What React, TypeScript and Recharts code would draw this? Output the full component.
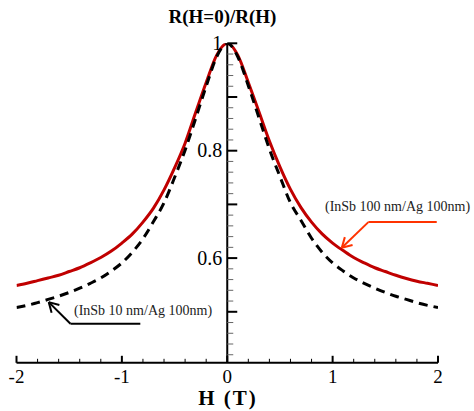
import React from 'react';
import { LineChart, Line, XAxis, YAxis, ReferenceLine, Customized } from 'recharts';

const hValues = [-2, -1.9, -1.8, -1.7, -1.6, -1.5, -1.4, -1.3, -1.2, -1.1, -1, -0.9, -0.8, -0.7, -0.6, -0.5, -0.4, -0.3, -0.2, -0.1, 0, 0.1, 0.2, 0.3, 0.4, 0.5, 0.6, 0.7, 0.8, 0.9, 1, 1.1, 1.2, 1.3, 1.4, 1.5, 1.6, 1.7, 1.8, 1.9, 2];
const inSb100 = [0.549, 0.553, 0.558, 0.563, 0.568, 0.575, 0.582, 0.591, 0.601, 0.613, 0.628, 0.645, 0.667, 0.693, 0.727, 0.768, 0.814, 0.871, 0.927, 0.978, 1.0, 0.978, 0.927, 0.873, 0.818, 0.770, 0.728, 0.694, 0.667, 0.645, 0.628, 0.614, 0.601, 0.591, 0.582, 0.575, 0.568, 0.562, 0.557, 0.553, 0.549];
const inSb10 = [0.508, 0.512, 0.517, 0.523, 0.529, 0.536, 0.544, 0.553, 0.563, 0.576, 0.591, 0.611, 0.636, 0.668, 0.703, 0.750, 0.801, 0.860, 0.920, 0.975, 1.0, 0.975, 0.921, 0.862, 0.803, 0.752, 0.703, 0.670, 0.637, 0.611, 0.591, 0.576, 0.563, 0.553, 0.544, 0.536, 0.529, 0.523, 0.517, 0.512, 0.508];

const xTicks = [-2, -1.8, -1.6, -1.4, -1.2, -1, -0.8, -0.6, -0.4, -0.2, 0, 0.2, 0.4, 0.6, 0.8, 1, 1.2, 1.4, 1.6, 1.8, 2];
const xTickLabels = ['-2', '-1', '0', '1', '2'];
const yTicks = [0.42, 0.44, 0.46, 0.48, 0.5, 0.52, 0.54, 0.56, 0.58, 0.6, 0.62, 0.64, 0.66, 0.68, 0.7, 0.72, 0.74, 0.76, 0.78, 0.8, 0.82, 0.84, 0.86, 0.88, 0.9, 0.92, 0.94, 0.96, 0.98, 1.0];
const yMajor = [0.5, 0.6, 0.7, 0.8, 0.9, 1.0];
const yTickLabels = ['0.6', '0.8', '1'];

const title = 'R(H=0)/R(H)';
const xLabel = 'H (T)';
const label100 = '(InSb 100 nm/Ag 100nm)';
const label10 = '(InSb 10 nm/Ag 100nm)';

// annotation arrows (data coordinates)
const redArrow = [
  [{ x: 1.988, y: 0.667 }, { x: 1.339, y: 0.667 }],
  [{ x: 1.339, y: 0.667 }, { x: 1.087, y: 0.6194 }],
  [{ x: 1.087, y: 0.6194 }, { x: 1.116, y: 0.639 }],
  [{ x: 1.087, y: 0.6194 }, { x: 1.189, y: 0.6244 }],
];
const blackArrow = [
  [{ x: -0.825, y: 0.4777 }, { x: -1.488, y: 0.4777 }],
  [{ x: -1.488, y: 0.4777 }, { x: -1.694, y: 0.518 }],
  [{ x: -1.694, y: 0.518 }, { x: -1.593, y: 0.5128 }],
  [{ x: -1.694, y: 0.518 }, { x: -1.667, y: 0.4982 }],
];

const data = hValues.map((h, i) => ({ h, a: inSb100[i], b: inSb10[i] }));

const W = 474;
const H = 411;
const Y_AXIS_W = 1;
const margin = { top: 43.3, right: 36, bottom: 18.2, left: 15.5 };
const plotLeft = margin.left + Y_AXIS_W;
const centerX = plotLeft + (W - plotLeft - margin.right) / 2;
const FONT = '"Liberation Serif", "Times New Roman", serif';
const serif = { fontFamily: FONT };

const XTick = (props: any) => {
  const { x, y, payload } = props;
  const v = payload.value;
  const major = Math.abs(v - Math.round(v)) < 1e-6;
  const lbl = major ? xTickLabels[Math.round(v) + 2] : null;
  return (
    <g>
      <line x1={x} x2={x} y1={y} y2={y - (major ? 7 : 4)} stroke="#000" strokeWidth={major ? 2 : 1} />
      {lbl !== null && (
        <text x={x} y={y + 20} textAnchor="middle" style={serif} fontSize={19} fill="#000">
          {lbl}
        </text>
      )}
    </g>
  );
};

const YTick = (props: any) => {
  const { y, payload } = props;
  const v = payload.value;
  const k = Math.round(v * 100);
  const major = yMajor.some((m) => Math.round(m * 100) === k);
  const lblIdx = [60, 80, 100].indexOf(k);
  return (
    <g>
      <line x1={centerX} x2={centerX + (major ? 10 : 6)} y1={y} y2={y} stroke={major ? '#000' : '#666'} strokeWidth={major ? 2 : 1} />
      {lblIdx >= 0 && (
        <text x={centerX - 5} y={y + 6.5} textAnchor="end" style={serif} fontSize={20} fill="#000">
          {yTickLabels[lblIdx]}
        </text>
      )}
    </g>
  );
};

const Texts = () => (
  <g>
    <text x={222.5} y={23} textAnchor="middle" style={serif} fontWeight="bold" fontSize={19} fill="#000">
      {title}
    </text>
    <text x={228} y={405} textAnchor="middle" style={serif} fontWeight="bold" fontSize={21} letterSpacing={2} fill="#000">
      {xLabel}
    </text>
    <text x={325} y={211} style={serif} fontSize={14} fill="#222">
      {label100}
    </text>
    <text x={74} y={315} style={serif} fontSize={14} fill="#222">
      {label10}
    </text>
  </g>
);

export default function App() {
  return (
    <div style={{ position: 'absolute', left: 0, top: 0, background: '#fff' }}>
      <LineChart width={W} height={H} data={data} margin={margin}>
        <XAxis
          dataKey="h"
          type="number"
          domain={[-2, 2]}
          ticks={xTicks}
          interval={0}
          tickSize={0}
          tickMargin={0}
          tickLine={false}
          axisLine={{ stroke: '#000', strokeWidth: 2 }}
          tick={<XTick />}
          height={30}
          allowDataOverflow
        />
        <YAxis
          type="number"
          domain={[0.405, 1]}
          ticks={yTicks}
          interval={0}
          width={Y_AXIS_W}
          tickSize={0}
          tickMargin={0}
          tickLine={false}
          axisLine={false}
          tick={<YTick />}
          allowDataOverflow
        />
        <ReferenceLine x={0} stroke="#000" strokeWidth={2} />
        <Line type="monotone" dataKey="a" stroke="#c00000" strokeWidth={3} dot={false} isAnimationActive={false} />
        <Line type="monotone" dataKey="b" stroke="#000" strokeWidth={3} strokeDasharray="9 6" dot={false} isAnimationActive={false} />
        {redArrow.map((seg, i) => (
          <ReferenceLine key={'r' + i} segment={seg} stroke="#ff3300" strokeWidth={2} ifOverflow="visible" />
        ))}
        {blackArrow.map((seg, i) => (
          <ReferenceLine key={'b' + i} segment={seg} stroke="#000" strokeWidth={2} ifOverflow="visible" />
        ))}
        <Customized component={<Texts />} />
      </LineChart>
    </div>
  );
}
